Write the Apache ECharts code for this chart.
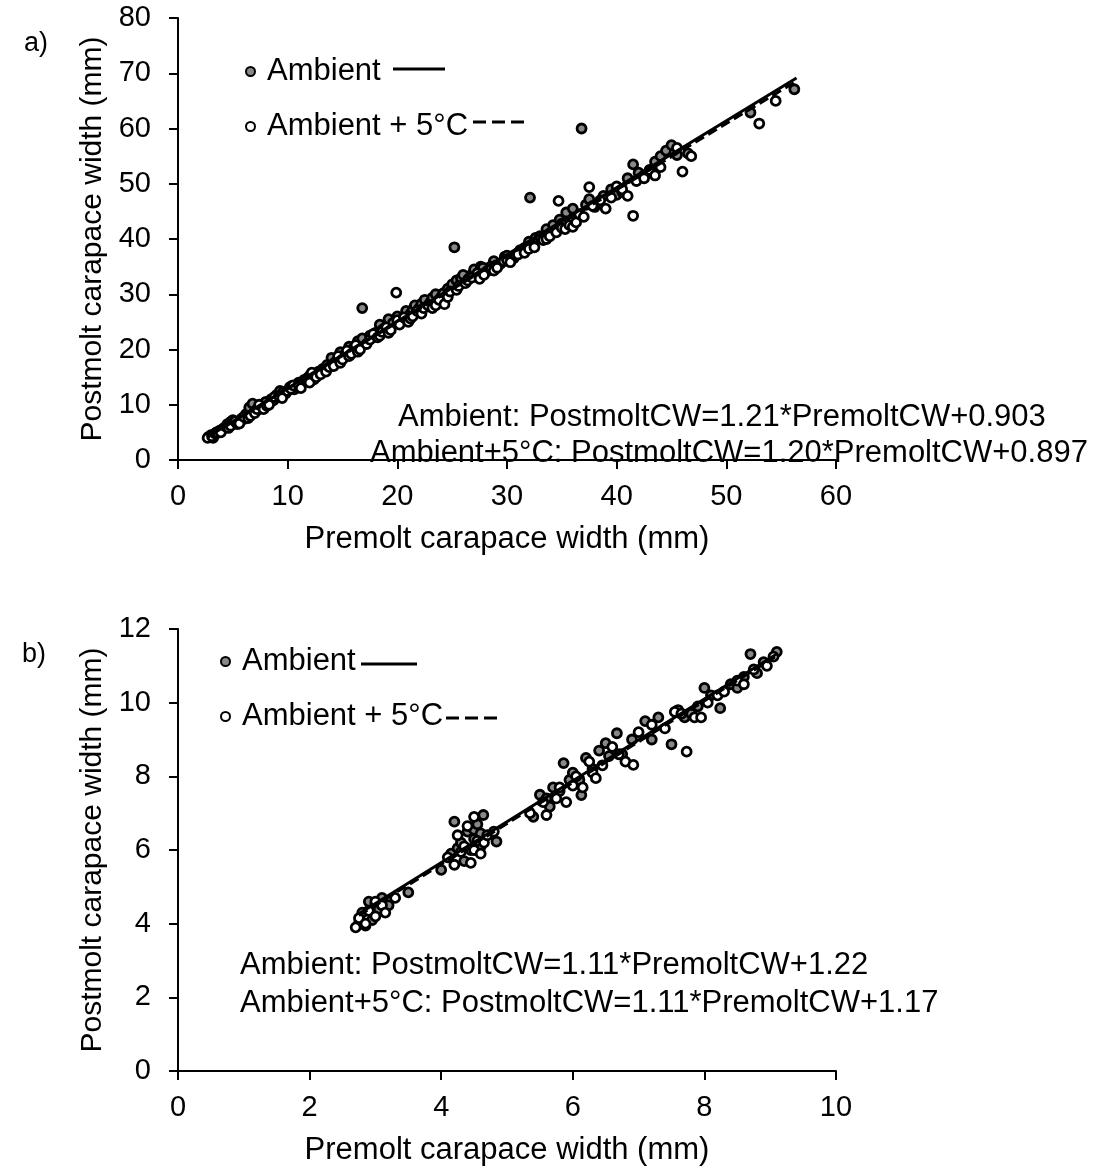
<!DOCTYPE html>
<html><head><meta charset="utf-8">
<script src="https://cdn.jsdelivr.net/npm/echarts@6/dist/echarts.min.js"></script>
<style>html,body{margin:0;padding:0;background:#fff}#c{width:1097px;height:1169px}</style>
</head><body><div id="c"></div>
<script>
// Panel a) data [premolt CW, postmolt CW]
const ambientA = [[2.8,4.2],[3.0,4.5],[3.2,4.0],[3.3,4.6],[3.5,5.0],[3.8,5.3],[4.0,5.5],[4.2,5.8],[4.5,6.5],[4.8,6.9],[5.0,7.2],[5.3,6.8],[5.5,7.0],[5.8,7.5],[6.0,7.4],[6.2,8.3],[6.5,9.5],[6.8,10.2],[7.0,8.8],[7.2,9.0],[7.6,9.8],[7.9,10.3],[8.0,10.5],[8.5,11.0],[8.7,10.8],[9.0,11.8],[9.3,12.5],[9.6,12.3],[9.8,12.0],[10.2,13.2],[10.4,13.4],[10.6,12.8],[10.9,13.2],[11.0,14.0],[11.5,14.5],[11.8,14.8],[12.0,15.2],[12.4,14.6],[12.6,15.4],[12.8,16.0],[13.2,16.5],[13.4,16.2],[13.6,17.2],[14.0,18.5],[14.2,17.5],[14.4,17.8],[14.8,19.5],[15.0,18.8],[15.2,19.0],[15.6,20.5],[15.8,19.9],[16.0,20.2],[16.4,21.5],[16.6,20.6],[16.8,22.0],[16.8,27.5],[17.5,22.5],[17.8,22.2],[18.0,23.0],[18.4,24.5],[18.6,23.5],[18.8,23.8],[19.2,25.5],[19.4,24.0],[19.6,24.8],[20.0,26.0],[20.4,25.2],[20.6,26.0],[20.8,27.0],[21.2,26.5],[21.4,27.2],[21.6,28.0],[22.0,27.5],[22.2,28.3],[22.5,29.0],[23.0,28.5],[23.2,29.4],[23.5,30.0],[24.0,29.5],[24.2,30.2],[24.6,31.0],[25.0,31.8],[25.2,38.5],[25.4,32.5],[25.8,32.9],[26.0,33.5],[26.5,32.8],[26.8,33.6],[27.0,34.5],[27.6,35.0],[27.8,34.8],[28.2,34.2],[28.8,36.0],[29.0,35.2],[29.4,35.5],[29.8,36.8],[30.0,37.0],[30.6,36.5],[31.2,38.0],[31.6,38.4],[32.0,39.5],[32.1,47.5],[32.6,40.2],[33.0,40.5],[33.6,41.8],[34.0,41.2],[34.2,42.5],[34.8,43.5],[35.0,42.8],[35.4,44.8],[36.0,45.5],[36.8,60.0],[37.2,46.2],[37.5,47.2],[38.0,45.8],[38.8,47.8],[39.5,49.0],[40.0,48.0],[40.5,48.5],[41.0,51.0],[41.5,53.5],[42.0,52.0],[42.5,51.5],[43.5,54.0],[44.0,55.0],[44.5,56.0],[45.0,57.0],[45.5,55.2],[46.5,55.5],[52.2,62.9],[56.2,67.1]];
const warmA = [[2.7,4.0],[3.1,4.3],[3.4,4.8],[3.6,4.9],[3.9,5.0],[4.4,6.0],[4.6,5.8],[4.8,6.2],[5.2,7.0],[5.4,6.5],[5.6,6.6],[6.0,7.8],[6.4,7.6],[6.6,8.0],[7.0,8.5],[7.2,9.2],[7.4,10.0],[7.8,9.2],[8.1,9.8],[8.3,10.0],[8.8,11.4],[9.2,11.6],[9.5,11.2],[10.0,12.5],[10.3,12.9],[10.5,13.5],[11.0,13.6],[11.2,13.0],[11.8,14.2],[12.0,14.0],[12.2,15.8],[12.6,15.0],[13.0,15.5],[13.5,16.0],[13.8,16.8],[14.2,17.0],[14.6,18.8],[14.8,17.6],[15.0,18.2],[15.4,19.8],[15.6,18.8],[15.8,19.2],[16.2,20.8],[16.4,19.6],[16.6,20.0],[17.2,21.0],[17.5,21.8],[17.8,22.8],[18.2,22.2],[18.4,22.5],[18.6,23.2],[19.0,24.0],[19.2,23.0],[19.4,23.5],[19.9,30.3],[20.0,25.3],[20.2,24.5],[20.6,25.8],[21.0,25.0],[21.2,25.6],[21.4,26.0],[21.8,27.0],[22.2,26.5],[22.4,27.5],[22.8,28.0],[23.2,27.5],[23.5,28.0],[23.8,29.0],[24.3,28.2],[24.6,29.5],[24.8,30.5],[25.4,30.8],[25.6,31.5],[26.2,32.0],[26.4,32.5],[26.8,33.0],[27.3,33.8],[27.5,32.8],[27.9,33.5],[28.5,35.0],[28.8,34.3],[29.1,34.8],[29.7,36.0],[30.0,36.2],[30.3,35.8],[30.8,37.0],[31.0,37.2],[31.6,37.5],[32.0,38.2],[32.5,38.5],[33.3,39.8],[33.6,40.0],[33.9,40.5],[34.5,41.2],[34.7,46.9],[35.0,42.0],[35.3,41.8],[35.7,42.5],[36.0,42.2],[36.3,43.0],[36.6,44.5],[37.0,44.0],[37.5,49.4],[37.8,46.0],[38.5,47.0],[39.0,45.5],[39.5,47.5],[40.0,49.5],[40.5,49.0],[41.0,47.8],[41.5,44.2],[41.8,50.5],[42.5,51.0],[43.0,52.5],[43.5,51.5],[44.0,53.0],[45.5,56.5],[46.0,52.2],[46.8,55.0],[53.0,60.9],[54.5,65.0]];
const fitAmbientA = [[2.7,4.17],[56.4,69.15]];
const fitWarmA = [[2.7,4.14],[56.4,68.58]];

// Panel b) data
const ambientB = [[2.75,4.0],[2.8,4.3],[2.85,3.95],[2.9,4.6],[2.95,4.1],[3.0,4.55],[3.05,4.4],[3.1,4.7],[3.2,4.5],[3.5,4.85],[4.0,5.46],[4.15,5.9],[4.2,6.77],[4.25,6.05],[4.3,6.2],[4.35,5.7],[4.4,6.5],[4.45,6.0],[4.5,6.3],[4.5,6.55],[4.55,6.7],[4.6,6.1],[4.6,6.45],[4.64,6.95],[4.84,6.23],[5.4,6.9],[5.5,7.5],[5.6,7.4],[5.65,7.18],[5.7,7.7],[5.8,7.6],[5.86,8.36],[5.95,7.9],[6.0,8.1],[6.1,7.9],[6.13,7.49],[6.2,8.5],[6.3,8.2],[6.4,8.7],[6.5,8.9],[6.55,8.55],[6.67,9.17],[6.75,8.6],[6.9,9.0],[7.1,9.5],[7.2,9.0],[7.3,9.6],[7.5,8.87],[7.6,9.8],[7.7,9.6],[7.8,9.7],[7.9,9.9],[8.0,10.4],[8.1,10.2],[8.24,9.85],[8.4,10.5],[8.5,10.4],[8.6,10.7],[8.7,11.32],[8.8,10.8],[8.9,11.1],[9.1,11.38]];
const warmB = [[2.7,3.9],[2.75,4.15],[2.85,4.0],[2.9,4.35],[3.0,4.2],[3.0,4.6],[3.1,4.5],[3.15,4.3],[3.3,4.7],[4.1,5.8],[4.2,5.6],[4.25,6.4],[4.3,5.95],[4.35,6.1],[4.4,6.65],[4.45,5.65],[4.5,6.9],[4.5,6.0],[4.55,6.25],[4.6,5.9],[4.65,6.2],[4.7,6.4],[4.8,6.5],[5.35,7.0],[5.55,7.3],[5.6,6.95],[5.75,7.4],[5.8,7.7],[5.9,7.3],[6.0,7.75],[6.05,8.0],[6.15,7.7],[6.25,8.4],[6.3,8.1],[6.35,7.95],[6.45,8.3],[6.6,8.8],[6.7,8.6],[6.8,8.4],[6.92,8.31],[7.0,9.2],[7.2,9.4],[7.4,9.3],[7.55,9.75],[7.65,9.7],[7.73,8.67],[7.85,9.6],[7.95,9.6],[8.05,10.0],[8.2,10.2],[8.3,10.3],[8.5,10.6],[8.6,10.5],[8.75,10.9],[8.95,11.0],[9.05,11.25]];
const fitAmbientB = [[2.75,4.27],[9.1,11.32]];
const fitWarmB = [[2.75,4.22],[9.1,11.27]];

const xTitle = 'Premolt carapace width (mm)';
const yTitle = 'Postmolt carapace width (mm)';
const seriesNames = ['Ambient', 'Ambient + 5°C'];
const eqA = ['Ambient: PostmoltCW=1.21*PremoltCW+0.903', 'Ambient+5°C: PostmoltCW=1.20*PremoltCW+0.897'];
const eqB = ['Ambient: PostmoltCW=1.11*PremoltCW+1.22', 'Ambient+5°C: PostmoltCW=1.11*PremoltCW+1.17'];

const FONT = 'Liberation Sans, Arial, sans-serif';
const chart = echarts.init(document.getElementById('c'), null, {renderer: 'canvas'});

function xAxisCfg(gi, max, interval) {
  return {type: 'value', gridIndex: gi, min: 0, max: max, interval: interval,
    name: xTitle, nameLocation: 'middle', nameGap: 64,
    nameTextStyle: {fontFamily: FONT, fontSize: 31, color: '#000'},
    axisLine: {lineStyle: {color: '#000', width: 2}},
    axisTick: {inside: false, length: 9, lineStyle: {color: '#000', width: 2}},
    axisLabel: {fontFamily: FONT, fontSize: 29, color: '#000', margin: 22},
    splitLine: {show: false}};
}
function yAxisCfg(gi, max, interval) {
  return {type: 'value', gridIndex: gi, min: 0, max: max, interval: interval,
    name: yTitle, nameLocation: 'middle', nameGap: 68,
    nameTextStyle: {fontFamily: FONT, fontSize: 30, color: '#000'},
    axisLine: {onZero: false, lineStyle: {color: '#000', width: 2}},
    axisTick: {inside: false, length: 9, lineStyle: {color: '#000', width: 2}},
    axisLabel: {fontFamily: FONT, fontSize: 29, color: '#000', margin: 27},
    splitLine: {show: false}};
}
function scatter(name, data, gi, fill) {
  return {type: 'scatter', name: name, xAxisIndex: gi, yAxisIndex: gi, data: data,
    symbol: 'circle', symbolSize: 9,
    itemStyle: {color: fill, borderColor: '#000', borderWidth: 2.8, opacity: 1}, z: 2};
}
function fit(data, gi, dashed) {
  return {type: 'line', xAxisIndex: gi, yAxisIndex: gi, data: data, showSymbol: false, symbol: 'none',
    lineStyle: {color: '#000', width: 3, type: dashed ? [10, 5] : 'solid'}, z: 3, silent: true};
}
function txt(x, y, s, size) {
  return {type: 'text', left: x, top: y, style: {text: s, fontFamily: FONT, fontSize: size || 31, fill: '#000'}};
}
function hline(x1, x2, y, dashed) {
  return {type: 'line', shape: {x1: x1, y1: y, x2: x2, y2: y},
    style: {stroke: '#000', lineWidth: 3, lineDash: dashed ? [13, 6] : null}};
}

const legendCommon = {orient: 'vertical', icon: 'circle', itemWidth: 9, itemHeight: 9, itemGap: 24,
  textStyle: {fontFamily: FONT, fontSize: 31, color: '#000', padding: [0, 0, 0, 7]},
  data: seriesNames, selectedMode: false};

chart.setOption({
  animation: false,
  backgroundColor: '#fff',
  grid: [
    {left: 178, top: 18, width: 658, height: 442},
    {left: 178, top: 629, width: 658, height: 442}
  ],
  xAxis: [xAxisCfg(0, 60, 10), xAxisCfg(1, 10, 2)],
  yAxis: [yAxisCfg(0, 80, 10), yAxisCfg(1, 12, 2)],
  legend: [
    Object.assign({}, legendCommon, {left: 240, top: 51}),
    Object.assign({}, legendCommon, {left: 215, top: 641})
  ],
  series: [
    scatter(seriesNames[0], ambientA, 0, '#888'),
    scatter(seriesNames[1], warmA, 0, '#fff'),
    fit(fitAmbientA, 0, false),
    fit(fitWarmA, 0, true),
    scatter(seriesNames[0], ambientB, 1, '#888'),
    scatter(seriesNames[1], warmB, 1, '#fff'),
    fit(fitAmbientB, 1, false),
    fit(fitWarmB, 1, true)
  ],
  graphic: [
    txt(24, 30, 'a)', 27),
    txt(22, 641, 'b)', 27),
    hline(393, 445, 69, false),
    hline(473, 527, 122, true),
    hline(361, 417, 664, false),
    hline(446, 500, 718, true),
    txt(398, 402, eqA[0]),
    txt(370, 438, eqA[1]),
    txt(240, 950, eqB[0]),
    txt(240, 988, eqB[1])
  ]
});
</script></body></html>
